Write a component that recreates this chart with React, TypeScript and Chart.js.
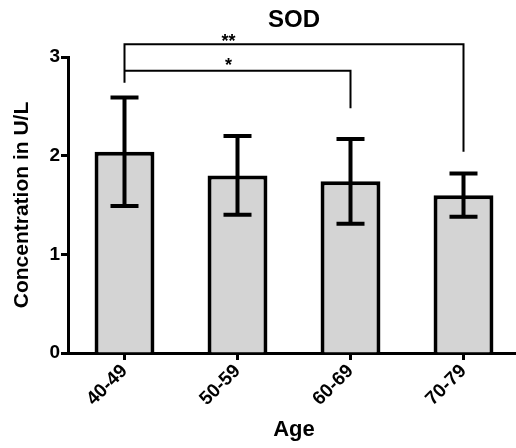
import React, { useEffect, useRef } from "react";
import { Chart, registerables } from "chart.js";

Chart.register(...registerables);

const FONT = "'Liberation Sans', Arial, Helvetica, sans-serif";

const categories = ["40-49", "50-59", "60-69", "70-79"];
const means = [2.04, 1.8, 1.74, 1.6];
const errors = [0.55, 0.4, 0.43, 0.22];
const yMin = 0;
const yMax = 3;
const yStep = 1;

const titleText = "SOD";
const xTitle = "Age";
const yTitle = "Concentration in U/L";

// significance brackets
const bracketFrom = [0, 0];
const bracketTo = [3, 2];
const bracketLevel = [3.13, 2.86];
const bracketLeftEnd = [2.74, 2.86];
const bracketRightEnd = [2.04, 2.48];
const bracketLabels = ["**", "*"];
const bracketLabelPos = [0.92, 0.92];
const bracketLabelY = [3.2, 2.96];

const overlay = {
  id: "overlay",
  afterDatasetsDraw(chart: any) {
    const { ctx, chartArea, scales } = chart;
    const x = scales.x;
    const y = scales.y;
    ctx.save();
    // error bars
    ctx.strokeStyle = "#000";
    ctx.lineWidth = 4;
    ctx.lineCap = "butt";
    means.forEach((m, i) => {
      const px = x.getPixelForValue(i);
      const top = y.getPixelForValue(m + errors[i]);
      const bot = y.getPixelForValue(m - errors[i]);
      ctx.beginPath();
      ctx.moveTo(px, top - 2);
      ctx.lineTo(px, bot + 2);
      ctx.moveTo(px - 14, top);
      ctx.lineTo(px + 14, top);
      ctx.moveTo(px - 14, bot);
      ctx.lineTo(px + 14, bot);
      ctx.stroke();
    });
    // brackets
    ctx.lineWidth = 2;
    bracketFrom.forEach((f, i) => {
      const x1 = x.getPixelForValue(f);
      const x2 = x.getPixelForValue(bracketTo[i]);
      const yl = y.getPixelForValue(bracketLevel[i]);
      const yL = y.getPixelForValue(bracketLeftEnd[i]);
      const yR = y.getPixelForValue(bracketRightEnd[i]);
      ctx.beginPath();
      ctx.moveTo(x1, yL);
      ctx.lineTo(x1, yl);
      ctx.lineTo(x2, yl);
      ctx.lineTo(x2, yR);
      ctx.stroke();
      const lx = x1 + (x.getPixelForValue(1) - x1) * bracketLabelPos[i];
      const ly = y.getPixelForValue(bracketLabelY[i]);
      ctx.fillStyle = "#000";
      ctx.font = `bold 18px ${FONT}`;
      ctx.textAlign = "center";
      ctx.textBaseline = "alphabetic";
      ctx.fillText(bracketLabels[i], lx, ly + 10);
    });
    // title
    ctx.fillStyle = "#000";
    ctx.font = `bold 24px ${FONT}`;
    ctx.textAlign = "center";
    ctx.textBaseline = "middle";
    ctx.fillText(titleText, (chartArea.left + chartArea.right) / 2, 20);
    ctx.restore();
  },
};

export default function App() {
  const ref = useRef<HTMLCanvasElement>(null);
  useEffect(() => {
    if (!ref.current) return;
    const chart = new Chart(ref.current, {
      type: "bar",
      data: {
        labels: categories,
        datasets: [
          {
            data: means,
            backgroundColor: "#d4d4d4",
            borderColor: "#000",
            borderWidth: 4,
            barPercentage: 0.53,
            categoryPercentage: 1,
          },
        ],
      },
      options: {
        animation: false,
        responsive: false,
        devicePixelRatio: 1,
        layout: { padding: { top: 57, right: 2, left: 0, bottom: 0 } },
        plugins: {
          legend: { display: false },
          tooltip: { enabled: false },
          title: { display: false },
        },
        scales: {
          x: {
            offset: true,
            grid: {
              display: true,
              offset: false,
              drawOnChartArea: false,
              drawTicks: true,
              tickLength: 7,
              tickWidth: 3,
              tickColor: "#000",
            },
            border: { display: true, color: "#000", width: 3 },
            ticks: {
              color: "#000",
              font: { family: FONT, size: 19, weight: "bold" },
              minRotation: 45,
              maxRotation: 45,
              padding: 0,
            },
            title: {
              display: true,
              text: xTitle,
              color: "#000",
              font: { family: FONT, size: 22, weight: "bold" },
              padding: { top: 0, bottom: 5 },
            },
            afterFit: (s: any) => {
              s.height = 95;
            },
          },
          y: {
            min: yMin,
            max: yMax,
            grid: {
              display: true,
              drawOnChartArea: false,
              drawTicks: true,
              tickLength: 7,
              tickWidth: 3,
              tickColor: "#000",
            },
            border: { display: true, color: "#000", width: 3 },
            ticks: {
              stepSize: yStep,
              color: "#000",
              font: { family: FONT, size: 19, weight: "bold" },
              padding: 1,
            },
            title: {
              display: true,
              text: yTitle,
              color: "#000",
              font: { family: FONT, size: 21, weight: "bold" },
              padding: { top: 10, bottom: 0 },
            },
            afterFit: (s: any) => {
              s.width = 68;
            },
          },
        },
      },
      plugins: [overlay],
    } as any);
    return () => chart.destroy();
  }, []);
  return (
    <div
      style={{
        position: "fixed",
        left: 0,
        top: 0,
        width: 516,
        height: 448,
        overflow: "hidden",
        background: "#fff",
      }}
    >
      <canvas ref={ref} width={522} height={448} style={{ display: "block" }} />
    </div>
  );
}
